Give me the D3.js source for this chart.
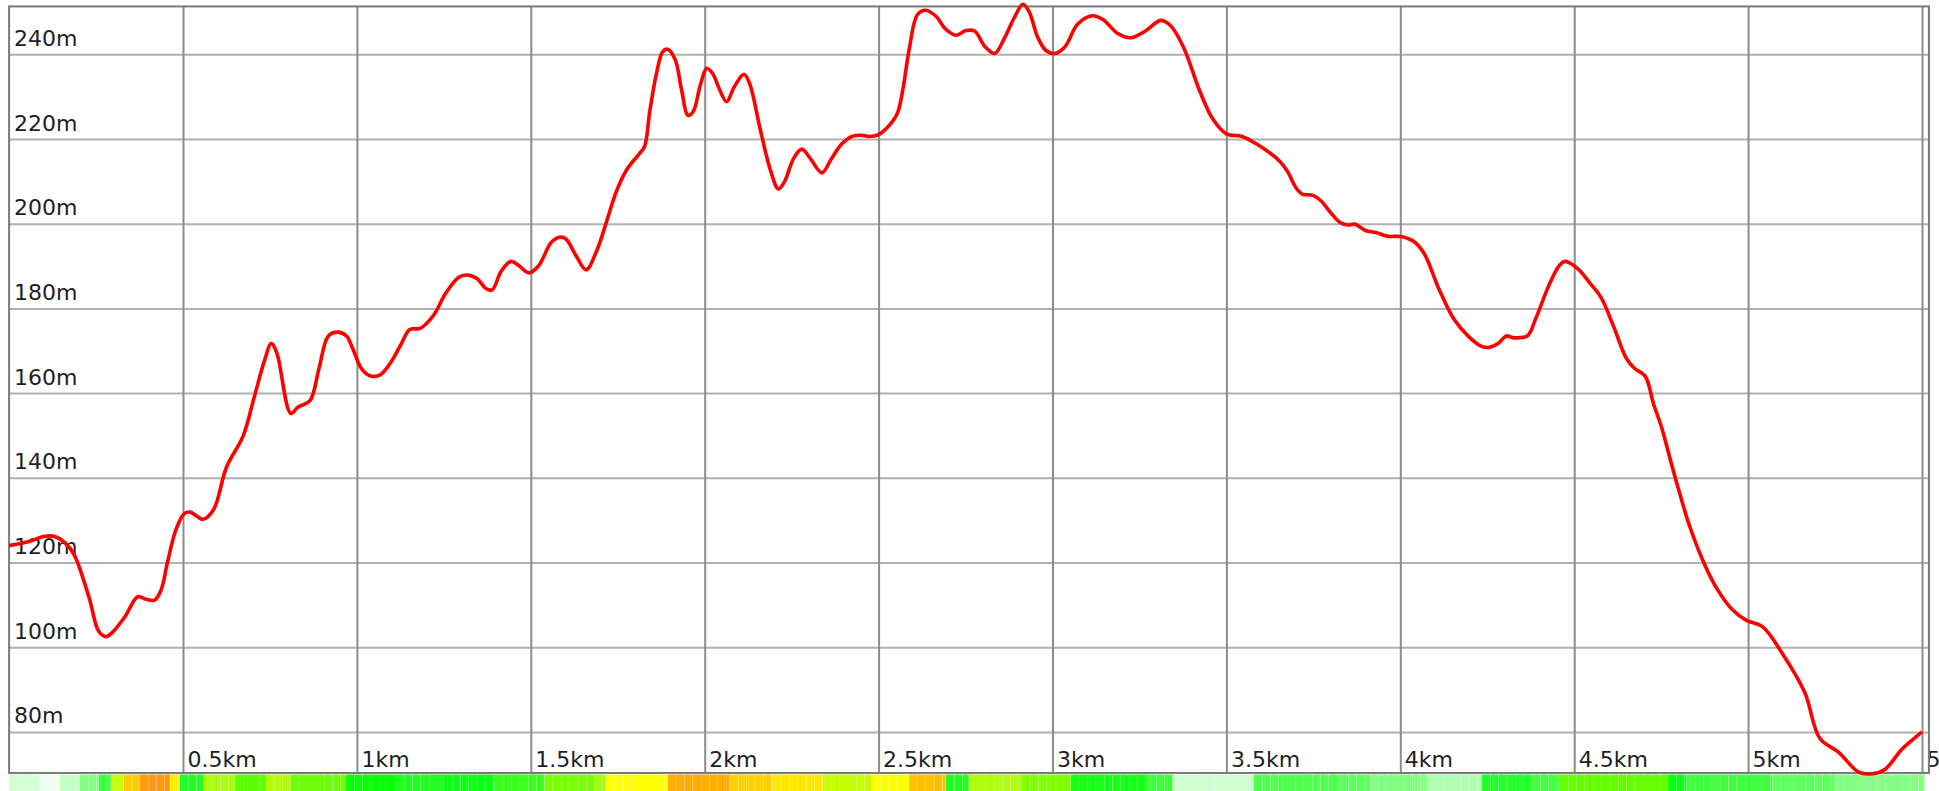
<!DOCTYPE html>
<html>
<head>
<meta charset="utf-8">
<script src="https://cdn.jsdelivr.net/npm/d3@7"></script>
<style>
  body { margin: 0; background: #fff; }
  svg { display: block; }
  .grid text { font-family: "DejaVu Sans", sans-serif; font-size: 22px; fill: #1e1e1e; }
</style>
</head>
<body>
<svg id="svg"></svg>
<script>
// elevation profile (km / m)
const distKm = [
  0.000, 0.055, 0.103, 0.133, 0.164, 0.188, 0.230, 0.258, 0.279, 0.297,
  0.333, 0.370, 0.394, 0.418, 0.437, 0.455, 0.479, 0.503, 0.521, 0.537,
  0.558, 0.588, 0.625, 0.673, 0.704, 0.734, 0.754, 0.770, 0.810, 0.831,
  0.865, 0.891, 0.918, 0.946, 0.970, 0.988, 1.013, 1.037, 1.067, 1.098,
  1.128, 1.152, 1.182, 1.219, 1.255, 1.292, 1.316, 1.346, 1.371, 1.389,
  1.415, 1.443, 1.467, 1.495, 1.522, 1.559, 1.583, 1.601, 1.631, 1.659,
  1.689, 1.716, 1.746, 1.777, 1.812, 1.827, 1.842, 1.861, 1.879, 1.893,
  1.915, 1.933, 1.952, 1.967, 1.988, 2.006, 2.024, 2.042, 2.063, 2.085,
  2.113, 2.130, 2.158, 2.188, 2.212, 2.230, 2.255, 2.279, 2.303, 2.337,
  2.364, 2.394, 2.424, 2.448, 2.473, 2.497, 2.527, 2.554, 2.570, 2.588,
  2.612, 2.636, 2.667, 2.691, 2.723, 2.751, 2.776, 2.806, 2.834, 2.860,
  2.891, 2.915, 2.933, 2.957, 2.981, 3.006, 3.036, 3.072, 3.115, 3.145,
  3.188, 3.224, 3.267, 3.311, 3.339, 3.376, 3.424, 3.461, 3.500, 3.545,
  3.587, 3.654, 3.676, 3.700, 3.718, 3.749, 3.773, 3.803, 3.827, 3.851,
  3.869, 3.900, 3.930, 3.966, 4.002, 4.039, 4.069, 4.111, 4.154, 4.196,
  4.232, 4.256, 4.281, 4.305, 4.323, 4.365, 4.389, 4.426, 4.456, 4.474,
  4.510, 4.547, 4.577, 4.613, 4.650, 4.674, 4.704, 4.728, 4.752, 4.777,
  4.801, 4.831, 4.873, 4.909, 4.952, 4.994, 5.042, 5.097, 5.163, 5.206,
  5.260, 5.318, 5.357, 5.393, 5.441, 5.478, 5.500
];
const elevM = [
  124.0, 124.9, 126.2, 126.1, 124.4, 121.7, 111.7, 103.7, 102.5, 103.5,
  107.2, 111.9, 111.3, 111.1, 113.5, 119.9, 127.6, 131.5, 131.9, 131.1,
  130.2, 132.5, 142.5, 149.9, 158.8, 167.6, 171.7, 169.4, 155.2, 156.7,
  158.2, 165.8, 173.5, 174.4, 173.5, 170.5, 165.8, 164.1, 164.3, 167.3,
  171.7, 175.0, 175.3, 178.2, 183.5, 187.3, 187.9, 187.0, 184.7, 184.4,
  188.8, 191.1, 190.0, 188.4, 190.0, 195.6, 196.8, 196.4, 192.3, 189.1,
  193.5, 200.0, 207.6, 212.9, 216.5, 218.2, 226.5, 235.3, 240.6, 241.2,
  238.8, 231.8, 225.6, 226.5, 232.9, 236.7, 235.3, 231.8, 228.8, 232.3,
  235.3, 232.9, 222.9, 212.9, 208.2, 210.0, 215.3, 217.6, 215.5, 212.0,
  215.3, 218.8, 220.6, 220.9, 220.6, 220.9, 222.9, 226.1, 231.8, 241.2,
  249.4, 250.4, 248.8, 246.1, 244.5, 245.6, 245.5, 241.8, 240.2, 243.5,
  248.8, 251.8, 250.0, 244.1, 240.9, 240.2, 241.8, 247.1, 249.1, 248.2,
  244.9, 243.9, 245.5, 248.0, 246.8, 241.8, 231.2, 224.7, 221.2, 220.6,
  218.8, 214.7, 212.3, 208.5, 207.0, 206.7, 205.3, 202.3, 200.3, 199.7,
  199.9, 198.4, 197.9, 197.0, 197.0, 195.8, 192.9, 184.6, 177.5, 173.4,
  171.1, 170.8, 171.7, 173.5, 173.1, 173.5, 177.5, 185.2, 190.0, 191.1,
  189.4, 185.8, 182.6, 175.8, 168.2, 165.8, 164.0, 157.5, 151.7, 144.1,
  137.0, 128.8, 119.9, 114.0, 109.1, 106.4, 104.8, 98.7, 89.3, 78.5,
  75.2, 70.5, 70.1, 71.1, 75.8, 78.5, 80.0
];

// colour strip under the chart: start of each block (km) and its colour
const bandStartKm = [
  0.000, 0.089, 0.146, 0.204, 0.258, 0.293, 0.330, 0.376, 0.463, 0.491,
  0.560, 0.650, 0.739, 0.810, 0.969, 1.112, 1.250, 1.397, 1.540, 1.682,
  1.716, 1.894, 2.073, 2.196, 2.340, 2.481, 2.588, 2.694, 2.760, 2.912,
  3.053, 3.275, 3.346, 3.579, 3.827, 3.915, 4.077, 4.235, 4.379, 4.459,
  4.770, 4.824, 5.071, 5.250
];
const bandEndKm = 5.508;
const bandColor = [
  "#d4ffd4", "#effff0", "#c6ffc6", "#80ff80", "#3cff3c", "#c4ff10", "#ffcc00", "#ff9a10", "#ffee00", "#22ff22",
  "#aaff10", "#5cff00", "#b2ff00", "#6cff08", "#08ff08", "#22ff22", "#10ff18", "#3cff20", "#78ff08", "#9cff10",
  "#ffff00", "#ffad00", "#ffd000", "#ffe800", "#c6ff00", "#fdff00", "#ffc000", "#20ff20", "#b0ff10", "#80ff00",
  "#18ff18", "#40ff40", "#d0ffd0", "#50ff50", "#60ff60", "#80ff80", "#b0ffb0", "#24ff2c", "#44ff44", "#66ff00",
  "#08ff14", "#40ff40", "#60ff60", "#84ff84"
];

const xTicks = [0.5, 1, 1.5, 2, 2.5, 3, 3.5, 4, 4.5, 5, 5.5];
const xTickLabels = ["0.5km", "1km", "1.5km", "2km", "2.5km", "3km", "3.5km", "4km", "4.5km", "5km", "5.5km"];
const yTicks = [80, 100, 120, 140, 160, 180, 200, 220, 240];
const yTickLabels = ["80m", "100m", "120m", "140m", "160m", "180m", "200m", "220m", "240m"];

const width = 1939;
const height = 791;

const xMax = 5.52;
const yMin = 70.3, yMaxV = 251.3;

let svg = d3.select("#svg").attr("width", width).attr("height", height);

const xScale = d3.scaleLinear().domain([0, 5.5]).range([9.1, 9.1 + 5.5 * 347.8]);
const yScale = d3.scaleLinear().domain([80, 240]).range([731.9, 54.3]);

const plotLeft = xScale(0), plotRight = xScale(xMax);
const plotTop = yScale(yMaxV), plotBottom = yScale(yMin);

svg.append("rect").attr("width", width).attr("height", height).attr("fill", "#fff");

// horizontal grid + labels
let yAxis = svg.append("g")
    .attr("class", "grid")
    .attr("transform", `translate(${plotLeft},0)`)
    .call(d3.axisLeft(yScale)
        .tickValues(yTicks)
        .tickSize(-(plotRight - plotLeft))
        .tickFormat((d, i) => yTickLabels[i]));
yAxis.select(".domain").remove();
yAxis.selectAll(".tick line").attr("stroke", "#b0b0b0").attr("stroke-width", 2);
yAxis.selectAll(".tick text")
    .attr("x", 5).attr("y", -9).attr("dy", 0)
    .attr("text-anchor", "start");

// vertical grid + labels
let xAxis = svg.append("g")
    .attr("class", "grid")
    .attr("transform", `translate(0,${plotBottom})`)
    .call(d3.axisBottom(xScale)
        .tickValues(xTicks)
        .tickSize(-(plotBottom - plotTop))
        .tickFormat((d, i) => xTickLabels[i]));
xAxis.select(".domain").remove();
xAxis.selectAll(".tick line").attr("stroke", "#8c8c8c").attr("stroke-width", 2);
xAxis.selectAll(".tick text")
    .attr("x", 4).attr("y", -6).attr("dy", 0)
    .attr("text-anchor", "start");

// plot frame
svg.append("rect")
    .attr("x", plotLeft).attr("y", plotTop)
    .attr("width", plotRight - plotLeft).attr("height", plotBottom - plotTop)
    .attr("fill", "none")
    .attr("stroke", "#7a7a7a")
    .attr("stroke-width", 2);

// colour strip, split into thin slivers like the original
let slivers = [];
bandStartKm.forEach((s, i) => {
    let e = i < bandStartKm.length - 1 ? bandStartKm[i + 1] : bandEndKm;
    for (let a = s; a < e - 1e-6; a += 0.024) {
        slivers.push({ a: a, b: Math.min(a + 0.024, e), c: bandColor[i] });
    }
});
svg.append("g").selectAll("rect")
    .data(slivers)
    .join("rect")
    .attr("x", d => xScale(d.a))
    .attr("y", plotBottom + 1.5)
    .attr("width", d => Math.max(0.5, xScale(d.b) - xScale(d.a) - 0.3))
    .attr("height", height - plotBottom)
    .attr("fill", d => d.c);

// the profile
const pts = distKm.map((d, i) => [d, elevM[i]]);
const line = d3.line()
    .x(d => xScale(d[0]))
    .y(d => yScale(d[1]))
    .curve(d3.curveCatmullRom.alpha(0.5));

svg.append("path")
    .datum(pts)
    .attr("d", line)
    .attr("fill", "none")
    .attr("stroke", "#ff0000")
    .attr("stroke-width", 3.6)
    .attr("stroke-linejoin", "round");
</script>
</body>
</html>
